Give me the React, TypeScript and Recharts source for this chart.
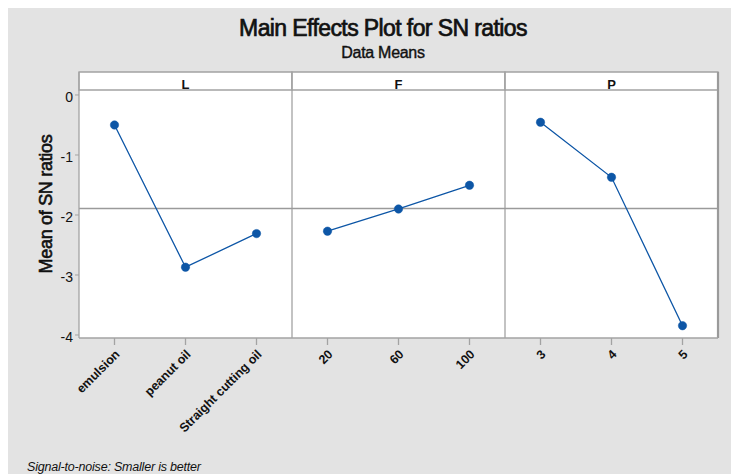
import React from "react"
import { LineChart, Line, XAxis, YAxis, CartesianGrid, ReferenceLine, ReferenceArea } from "recharts"

// factor levels and mean SN ratios
const factors = ["L", "F", "P"]
const lLevels = ["emulsion", "peanut oil", "Straight cutting oil"]
const lMeans = [-0.5, -2.87, -2.31]
const fLevels = ["20", "60", "100"]
const fMeans = [-2.27, -1.9, -1.505]
const pLevels = ["3", "4", "5"]
const pMeans = [-0.455, -1.372, -3.845]
const yTicks = [0, -1, -2, -3, -4]

const levels = [lLevels, fLevels, pLevels]
const means = [lMeans, fMeans, pMeans]
const tickLabels = levels.flat()

const data = factors.flatMap((f, fi) =>
  levels[fi].map((lab, i) => ({ x: fi * 3 + i, label: lab, [f]: means[fi][i] }))
)
const allMeans = means.flat()
const grandMean = allMeans.reduce((a, b) => a + b, 0) / allMeans.length

const Y_MIN = -4.05
const Y_MAX = 0.383
const STRIP = 0.083 // bottom of the header strip
const BLUE = "#0d56a6"
const GRID = "#a3a3a3"
const FONT = "'Liberation Sans', Arial, sans-serif"

const XTick = (props: any) => {
  const { x, y, payload } = props
  return (
    <g transform={`translate(${x + 6},${y + 8})`}>
      <text transform="rotate(-45)" textAnchor="end" fontSize={12.5} fontWeight="bold" fill="#111" fontFamily={FONT}>
        {tickLabels[payload.value]}
      </text>
    </g>
  )
}

export default function App() {
  return (
    <div style={{ position: "relative", width: 731, height: 466, background: "#e3e3e3", fontFamily: FONT }}>
      <LineChart width={731} height={466} data={data} margin={{ top: 64, right: 21, bottom: 26, left: 31 }}>
        <CartesianGrid horizontal={false} vertical={false} fill="#fff" />
        <XAxis
          dataKey="x"
          type="number"
          domain={[-0.5, 8.5]}
          ticks={[0, 1, 2, 3, 4, 5, 6, 7, 8]}
          interval={0}
          height={110}
          tickSize={7}
          axisLine={{ stroke: GRID, strokeWidth: 1.3 }}
          tickLine={{ stroke: GRID, strokeWidth: 1.3 }}
          tick={<XTick />}
        />
        <YAxis
          type="number"
          domain={[Y_MIN, Y_MAX]}
          allowDataOverflow
          ticks={yTicks}
          width={40}
          tickSize={4}
          axisLine={{ stroke: GRID, strokeWidth: 1.3 }}
          tickLine={{ stroke: GRID }}
          tick={{ fontSize: 14, fill: "#111", fontFamily: FONT, dy: 2 }}
        />
        {factors.map((f, fi) => (
          <ReferenceArea
            key={`strip-${f}`}
            x1={fi * 3 - 0.5}
            x2={fi * 3 + 2.5}
            y1={STRIP}
            y2={Y_MAX}
            fill="#fff"
            fillOpacity={1}
            stroke={GRID}
            strokeWidth={1.3}
            label={{ value: f, position: "center", fontSize: 13, fontWeight: "bold", fill: "#111", fontFamily: FONT, dy: 3 }}
          />
        ))}
        <ReferenceLine x={2.5} stroke={GRID} strokeWidth={1.3} />
        <ReferenceLine x={5.5} stroke={GRID} strokeWidth={1.3} />
        <ReferenceLine x={8.5} stroke="#9a9a9a" strokeWidth={2.2} />
        <ReferenceLine y={grandMean} stroke="#9a9a9a" strokeWidth={1.6} />
        {factors.map((f) => (
          <Line
            key={f}
            dataKey={f}
            stroke={BLUE}
            strokeWidth={1.3}
            dot={{ r: 4.2, fill: BLUE, stroke: BLUE, strokeWidth: 0.5 }}
            connectNulls={false}
            isAnimationActive={false}
          />
        ))}
      </LineChart>
      <svg width={731} height={466} style={{ position: "absolute", left: 0, top: 0, pointerEvents: "none" }}>
        <text x={375} y={28} textAnchor="middle" fontSize={23} fill="#111" stroke="#111" strokeWidth={0.7} fontFamily={FONT} letterSpacing={-0.6}>
          Main Effects Plot for SN ratios
        </text>
        <text x={375} y={50} textAnchor="middle" fontSize={16} fill="#111" stroke="#111" strokeWidth={0.4} fontFamily={FONT} letterSpacing={-0.3}>
          Data Means
        </text>
        <text transform="translate(44,196) rotate(-90)" textAnchor="middle" fontSize={18} fill="#111" stroke="#111" strokeWidth={0.6} fontFamily={FONT} letterSpacing={-0.3}>
          Mean of SN ratios
        </text>
        <text x={19} y={463} fontSize={12.5} fontStyle="italic" fill="#111" fontFamily={FONT} letterSpacing={-0.2}>
          Signal-to-noise: Smaller is better
        </text>
      </svg>
    </div>
  )
}
